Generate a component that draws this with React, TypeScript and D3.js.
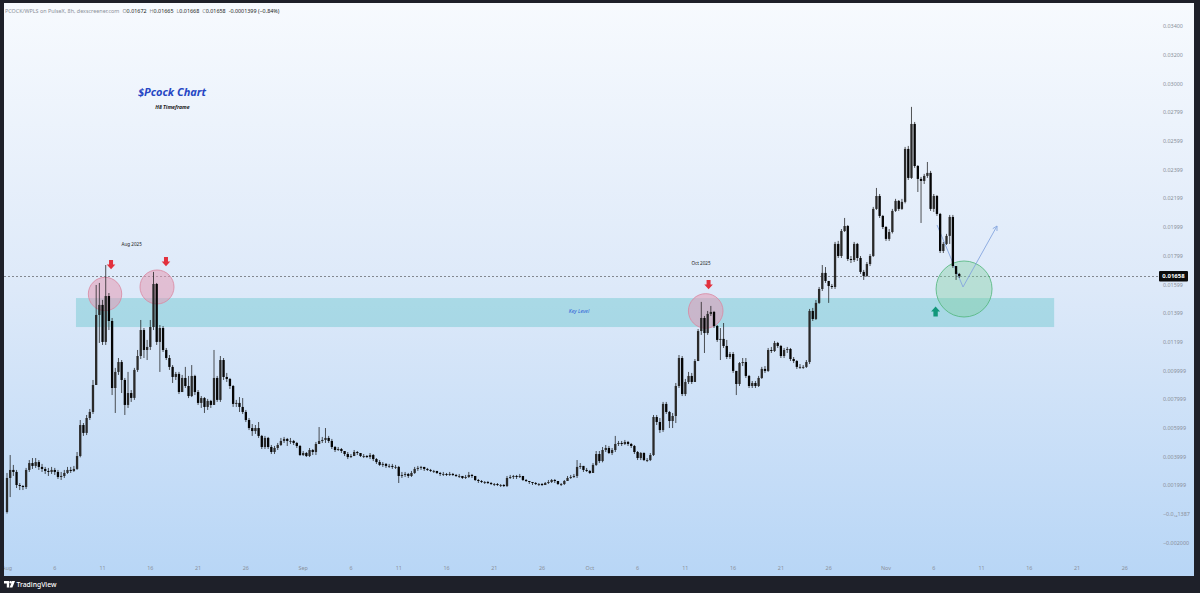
import React from "react";
import * as d3 from "d3";

const W = 1200;
const H = 593;

// prices in units of 0.0001
const UNIT = 1e-4;
const OPEN0 = 1.4;
const CLOSE = [
  25.1, 30.7, 29.3, 20.2, 19.5, 18.8, 30.7, 35.5, 33.5, 36.2,
  32.8, 31.4, 30.0, 29.3, 30.7, 29.3, 25.8, 26.5, 28.6, 30.7,
  30.0, 31.4, 40.4, 62.0, 56.5, 66.9, 71.1, 89.9, 138.7, 145.7,
  119.9, 151.9, 134.5, 87.8, 99.0, 105.9, 93.4, 76.0, 84.3, 80.9,
  100.4, 110.1, 128.2, 114.3, 116.4, 130.3, 160.3, 119.9, 129.6, 114.3,
  108.7, 102.5, 95.5, 97.6, 85.0, 94.8, 89.2, 82.2, 96.2, 85.0,
  77.4, 80.8, 74.6, 78.8, 76.0, 94.8, 79.5, 107.3, 95.5, 94.1,
  89.2, 76.7, 77.4, 74.6, 71.1, 65.5, 59.9, 57.8, 59.9, 54.4,
  46.7, 53.0, 46.7, 43.2, 46.0, 48.1, 50.9, 52.3, 50.9, 50.9,
  49.5, 47.4, 41.1, 42.5, 40.4, 44.6, 43.2, 48.8, 50.9, 51.6,
  53.0, 50.9, 46.7, 44.6, 45.3, 43.9, 41.8, 39.7, 40.4, 43.2,
  42.5, 40.4, 40.4, 39.7, 41.1, 38.3, 36.2, 34.2, 34.9, 33.5,
  33.5, 32.8, 32.8, 26.5, 27.2, 27.9, 26.5, 28.6, 31.4, 32.1,
  32.8, 31.4, 30.7, 30.0, 30.0, 28.6, 27.9, 27.9, 27.2, 27.9,
  27.2, 26.5, 26.5, 25.1, 25.8, 27.2, 26.5, 23.7, 23.0, 22.3,
  22.3, 21.6, 20.9, 20.9, 20.2, 20.2, 19.5, 25.1, 25.8, 26.5,
  25.8, 26.5, 23.7, 23.0, 22.3, 21.6, 20.9, 20.9, 20.2, 21.6,
  22.3, 23.7, 23.0, 20.9, 20.9, 23.0, 25.1, 25.8, 26.5, 32.8,
  33.5, 30.7, 30.0, 28.6, 34.2, 41.8, 36.9, 44.6, 46.0, 42.5,
  44.6, 48.8, 49.5, 48.8, 50.2, 48.8, 47.4, 43.2, 39.0, 42.5,
  37.6, 37.6, 41.1, 67.6, 64.1, 58.5, 76.7, 71.1, 64.8, 68.3,
  89.2, 108.7, 83.6, 92.0, 96.2, 92.0, 106.6, 127.5, 136.6, 126.1,
  139.4, 140.8, 131.0, 121.3, 122.0, 117.1, 109.4, 111.5, 99.7, 90.6,
  105.2, 105.9, 96.2, 89.2, 91.3, 89.2, 94.8, 101.1, 99.7, 114.3,
  113.6, 119.2, 117.1, 110.1, 114.3, 115.0, 108.0, 106.6, 102.5, 102.5,
  102.5, 105.9, 141.5, 135.9, 147.1, 156.8, 168.0, 162.4, 158.9, 158.2,
  188.2, 179.8, 197.2, 200.7, 177.7, 177.0, 188.2, 178.4, 168.7, 165.9,
  174.2, 179.8, 212.6, 221.6, 207.7, 200.0, 191.7, 196.5, 211.2, 218.2,
  212.6, 217.5, 254.4, 234.2, 271.8, 242.5, 233.5, 232.1, 235.6, 237.7,
  212.6, 221.6, 209.1, 183.3, 188.2, 193.8, 207.0, 172.8, 167.3, 165.8,
];
const HIGH = [
  28.6, 41.1, 34.2, 30.7, 21.6, 20.2, 32.1, 37.6, 39.0, 39.0,
  37.6, 34.9, 32.8, 32.1, 32.8, 32.1, 30.7, 29.3, 30.7, 32.8,
  32.8, 33.5, 43.2, 65.5, 63.4, 69.0, 73.2, 93.4, 159.6, 161.0,
  149.2, 173.5, 154.0, 136.6, 101.8, 108.7, 107.3, 94.8, 99.0, 86.4,
  101.8, 114.3, 135.2, 129.6, 121.3, 135.2, 168.7, 161.0, 131.7, 131.0,
  115.7, 110.8, 103.8, 99.0, 99.0, 96.9, 102.5, 96.2, 103.8, 97.0,
  86.4, 82.2, 81.5, 80.2, 79.5, 114.3, 96.2, 110.1, 108.7, 98.3,
  94.8, 89.9, 79.5, 81.5, 80.8, 72.5, 66.9, 62.7, 62.0, 64.1,
  55.1, 54.4, 53.7, 48.1, 47.4, 49.5, 53.0, 53.7, 53.0, 53.0,
  51.6, 50.2, 48.1, 43.9, 43.2, 46.0, 45.3, 50.2, 60.6, 53.7,
  59.9, 54.4, 52.3, 47.4, 46.7, 46.0, 43.9, 43.2, 41.8, 44.6,
  43.9, 42.5, 41.8, 41.1, 42.5, 41.8, 39.0, 37.6, 36.2, 35.5,
  34.9, 34.9, 34.2, 33.5, 29.3, 29.3, 28.6, 30.0, 32.8, 33.5,
  33.5, 32.8, 32.1, 31.4, 30.7, 30.0, 29.3, 29.3, 28.6, 29.3,
  28.6, 27.9, 27.9, 26.5, 27.2, 29.3, 27.9, 26.5, 24.4, 23.7,
  23.0, 23.0, 22.3, 21.6, 21.6, 20.9, 20.9, 26.5, 27.2, 27.2,
  27.2, 27.9, 26.5, 24.4, 23.0, 22.3, 22.3, 21.6, 21.6, 22.3,
  23.7, 24.4, 24.4, 23.0, 21.6, 23.7, 26.5, 27.2, 27.9, 37.6,
  35.5, 33.5, 32.1, 30.7, 35.5, 43.9, 43.9, 46.7, 48.1, 47.4,
  46.0, 54.4, 50.9, 50.9, 51.6, 50.9, 49.5, 48.1, 43.9, 43.2,
  43.0, 39.0, 42.5, 69.0, 69.0, 66.9, 78.1, 78.1, 71.8, 70.4,
  91.3, 110.8, 110.1, 94.1, 99.0, 98.3, 108.0, 128.9, 147.8, 138.0,
  141.5, 145.0, 141.5, 131.7, 129.6, 133.1, 121.3, 112.9, 112.9, 99.7,
  105.9, 108.7, 108.7, 96.9, 92.7, 92.7, 96.2, 102.5, 103.1, 115.7,
  116.4, 120.6, 119.9, 117.8, 115.7, 116.4, 115.7, 109.4, 107.3, 104.5,
  103.8, 107.3, 142.9, 143.6, 149.1, 158.2, 173.5, 172.1, 162.4, 160.3,
  189.6, 190.3, 198.6, 206.3, 201.4, 179.8, 189.6, 188.9, 179.8, 170.1,
  175.6, 181.2, 214.0, 227.2, 223.0, 208.4, 200.7, 198.6, 212.6, 219.6,
  218.8, 219.6, 255.8, 256.5, 283.7, 273.2, 243.2, 234.9, 237.0, 245.3,
  239.1, 223.0, 222.3, 209.8, 189.6, 195.2, 208.4, 208.4, 172.8, 168.0,
];
const LOW = [
  0.3, 11.8, 26.5, 18.1, 16.7, 16.7, 17.4, 29.3, 31.4, 32.1,
  30.7, 29.3, 27.9, 26.5, 27.9, 27.2, 24.4, 23.7, 25.1, 27.9,
  28.6, 29.3, 30.7, 39.5, 54.4, 55.0, 65.5, 69.7, 89.9, 119.2,
  117.8, 117.8, 128.2, 82.9, 70.4, 96.9, 84.3, 69.0, 73.9, 78.1,
  79.5, 99.0, 108.0, 108.7, 107.3, 114.3, 128.2, 117.8, 99.0, 112.9,
  107.3, 100.4, 91.3, 93.4, 83.6, 85.0, 87.8, 80.8, 81.5, 82.9,
  76.0, 73.9, 70.4, 72.5, 73.9, 76.0, 78.1, 78.1, 93.4, 92.0,
  87.1, 74.6, 74.6, 71.1, 69.7, 64.1, 58.5, 54.4, 55.8, 53.0,
  45.3, 45.3, 45.3, 41.8, 41.8, 44.6, 47.4, 49.5, 47.4, 48.8,
  48.1, 46.0, 40.4, 40.4, 39.7, 39.7, 41.1, 41.1, 48.8, 49.5,
  49.5, 49.5, 45.3, 43.2, 43.9, 42.5, 40.4, 38.3, 39.0, 40.4,
  41.1, 39.7, 39.0, 39.0, 38.3, 36.9, 34.9, 33.5, 32.8, 32.1,
  32.1, 31.4, 31.4, 21.6, 25.1, 25.8, 25.1, 25.8, 27.9, 30.0,
  30.7, 30.0, 30.0, 29.3, 28.6, 27.9, 26.5, 26.5, 26.5, 26.5,
  26.5, 25.8, 25.1, 24.4, 24.4, 25.1, 25.1, 23.0, 21.6, 21.6,
  20.9, 20.9, 20.2, 19.5, 19.5, 18.8, 18.8, 18.8, 24.4, 24.4,
  24.4, 25.1, 23.0, 22.3, 20.9, 20.2, 20.2, 19.5, 19.5, 20.2,
  20.9, 21.6, 21.6, 20.2, 19.5, 20.2, 23.0, 24.4, 25.1, 25.1,
  31.4, 29.3, 29.3, 27.9, 28.6, 33.5, 35.5, 36.0, 43.2, 41.8,
  41.1, 43.2, 47.4, 47.4, 48.1, 47.4, 46.0, 41.8, 37.6, 37.6,
  36.9, 36.2, 36.9, 40.4, 62.0, 56.5, 57.2, 69.7, 59.9, 59.9,
  63.4, 87.8, 82.2, 82.2, 90.6, 90.6, 92.0, 106.6, 124.8, 112.2,
  124.8, 138.0, 129.6, 119.9, 107.3, 115.7, 108.0, 108.0, 98.3, 82.9,
  89.2, 103.1, 94.8, 87.8, 87.8, 87.8, 88.5, 94.1, 98.3, 99.0,
  112.2, 112.9, 115.7, 108.7, 108.7, 112.2, 106.6, 105.2, 101.1, 101.1,
  101.1, 101.8, 104.5, 134.5, 135.2, 146.4, 155.4, 161.0, 147.1, 156.8,
  156.8, 178.4, 178.4, 196.5, 176.3, 174.9, 175.6, 176.3, 167.3, 163.1,
  165.2, 172.8, 179.1, 211.9, 206.3, 198.6, 190.3, 190.3, 195.5, 210.5,
  211.2, 211.9, 216.5, 232.8, 233.5, 241.2, 224.4, 202.8, 230.0, 234.2,
  211.2, 210.5, 207.7, 181.9, 181.9, 187.5, 188.2, 171.5, 163.1, 164.5,
];

const PRICE_TICKS = [0.034, 0.032, 0.03, 0.02799, 0.02599, 0.02399, 0.02199, 0.01999, 0.01799, 0.01599, 0.01399, 0.01199, 0.009999, 0.007999, 0.005999, 0.003999, 0.001999, 0, -0.002];
const PRICE_LABELS = ["0.03400", "0.03200", "0.03000", "0.02799", "0.02599", "0.02399", "0.02199", "0.01999", "0.01799", "0.01599", "0.01399", "0.01199", "0.009999", "0.007999", "0.005999", "0.003999", "0.001999", "−0.0₁₄1387", "−0.002000"];

const DATE_TICKS = ["2025-08-01", "2025-08-06", "2025-08-11", "2025-08-16", "2025-08-21", "2025-08-26", "2025-09-01", "2025-09-06", "2025-09-11", "2025-09-16", "2025-09-21", "2025-09-26", "2025-10-01", "2025-10-06", "2025-10-11", "2025-10-16", "2025-10-21", "2025-10-26", "2025-11-01", "2025-11-06", "2025-11-11", "2025-11-16", "2025-11-21", "2025-11-26"];
const DATE_LABELS = ["Aug", "6", "11", "16", "21", "26", "Sep", "6", "11", "16", "21", "26", "Oct", "6", "11", "16", "21", "26", "Nov", "6", "11", "16", "21", "26"];

const LAST_PRICE = 0.01658;
const KEY_LEVEL = [0.01303, 0.01505];
const KEY_LEVEL_DAYS = [7.22, 109.6];
// annotations: [day offset from Aug 1, price]
const PINK_CIRCLES = [[10.26, 0.01533, 16.7], [15.7, 0.01582, 17], [73.13, 0.01415, 17.3]];
const GREEN_CIRCLE = [100.17, 0.01568, 28];
const RED_ARROWS = [[10.89, 0.0177], [16.64, 0.01791], [73.43, 0.01631]];
const GREEN_ARROW = [97.19, 0.01446];
const PATH_POINTS = [[97.34, 0.02014], [100.06, 0.01582], [103.62, 0.02007]];

export default function App() {
  const t0 = Date.UTC(2025, 7, 1);
  const DAY = 864e5;
  const x = d3.scaleUtc().domain([new Date(t0), new Date(Date.UTC(2025, 10, 1))]).range([7, 886]);
  const y = d3.scaleLinear().domain([0, 0.034]).range([514, 26.1]);
  const xd = (d: number) => x(new Date(t0 + d * DAY));

  const candles = CLOSE.map((c, i) => {
    const o = i === 0 ? OPEN0 : CLOSE[i - 1];
    return { t: new Date(t0 + i * 8 * 3600e3), o: o * UNIT, c: c * UNIT, h: HIGH[i] * UNIT, l: LOW[i] * UNIT };
  });

  const bw = 2.3;
  const grey = "#8a8f98";
  const font = "'Noto Sans', 'Liberation Sans', Arial, sans-serif";

  const redArrow = (cx: number, top: number, key: string) => (
    <path key={key} d={`M${cx - 2},${top} h4 v4.5 h2.3 L${cx},${top + 9.3} L${cx - 4.3},${top + 4.5} h2.3 Z`} fill="#e2313d" />
  );

  const pathLine = d3.line<number[]>().x((p) => xd(p[0])).y((p) => y(p[1]))(PATH_POINTS) || "";
  const end = PATH_POINTS[2];
  const prev = PATH_POINTS[1];
  const ex = xd(end[0]), ey = y(end[1]);
  const ang = Math.atan2(ey - y(prev[1]), ex - xd(prev[0]));
  const ah = 5;
  const head = `M${ex - ah * Math.cos(ang - 0.5)},${ey - ah * Math.sin(ang - 0.5)} L${ex},${ey} L${ex - ah * Math.cos(ang + 0.5)},${ey - ah * Math.sin(ang + 0.5)}`;

  const ga = GREEN_ARROW;
  const gcx = xd(ga[0]);
  const gtop = y(ga[1]);

  return (
    <svg width={W} height={H} style={{ position: "fixed", left: 0, top: 0, display: "block" }} fontFamily={font}>
      <defs>
        <linearGradient id="bg" x1="0" y1="0" x2="0" y2="1">
          <stop offset="0" stopColor="#f7fafe" />
          <stop offset="0.5" stopColor="#dde9f9" />
          <stop offset="1" stopColor="#b8d6f6" />
        </linearGradient>
        <clipPath id="panel">
          <rect x={4} y={3} width={1190} height={573} />
        </clipPath>
      </defs>
      <rect x={0} y={0} width={W} height={H} fill="#1e2029" />
      <rect x={4} y={3} width={1190} height={573} fill="url(#bg)" />

      <g clipPath="url(#panel)">
        {/* key level */}
        <rect
          x={xd(KEY_LEVEL_DAYS[0])}
          y={y(KEY_LEVEL[1])}
          width={xd(KEY_LEVEL_DAYS[1]) - xd(KEY_LEVEL_DAYS[0])}
          height={y(KEY_LEVEL[0]) - y(KEY_LEVEL[1])}
          fill="#4fc0c4"
          fillOpacity={0.36}
        />
        <text x={xd(59.87)} y={y(0.01401)} fontSize={5.2} fontStyle="italic" fill="#2a5bd7" textAnchor="middle">Key Level</text>

        {/* last price dashed line */}
        <line x1={4} x2={1158} y1={Math.round(y(LAST_PRICE)) + 0.5} y2={Math.round(y(LAST_PRICE)) + 0.5} stroke="#6c6f75" strokeWidth={0.8} strokeDasharray="2,2" />

        {/* circles behind candles */}
        {PINK_CIRCLES.map((c, i) => (
          <circle key={"pc" + i} cx={xd(c[0])} cy={y(c[1])} r={c[2]} fill="#e39ab5" fillOpacity={0.55} stroke="#d9869f" strokeWidth={0.8} />
        ))}
        <circle cx={xd(GREEN_CIRCLE[0])} cy={y(GREEN_CIRCLE[1])} r={GREEN_CIRCLE[2]} fill="#7fd0a0" fillOpacity={0.4} stroke="#4fb57a" strokeWidth={0.8} />

        {/* blue projection path */}
        <path d={pathLine} fill="none" stroke="#86a6df" strokeWidth={0.9} />
        <path d={head} fill="none" stroke="#86a6df" strokeWidth={0.9} />

        {/* candles */}
        {candles.map((d, i) => {
          const cx = x(d.t);
          const top = y(Math.max(d.o, d.c));
          const bot = y(Math.min(d.o, d.c));
          const hgt = Math.max(0.9, bot - top);
          const up = d.c >= d.o;
          return (
            <g key={i}>
              <line x1={cx} x2={cx} y1={y(Math.max(d.h, d.o, d.c))} y2={y(Math.min(d.l, d.o, d.c))} stroke="#1b1b1b" strokeWidth={0.75} />
              <rect x={cx - bw / 2} y={top} width={bw} height={hgt} fill={up ? "#2a2a2a" : "#050505"} />
            </g>
          );
        })}

        {/* arrows */}
        {RED_ARROWS.map((a, i) => redArrow(xd(a[0]), y(a[1]), "ra" + i))}
        <path d={`M${gcx},${gtop} L${gcx + 4.5},${gtop + 5} h-2.3 v5 h-4.4 v-5 h-2.3 Z`} fill="#12977a" />

        {/* annotation texts */}
        <text x={xd(13.05)} y={y(0.01868)} fontSize={4.6} fill="#222" textAnchor="middle">Aug 2025</text>
        <text x={xd(72.64)} y={y(0.01735)} fontSize={4.6} fill="#222" textAnchor="middle">Oct 2025</text>
        <text x={xd(17.27)} y={y(0.02913)} fontSize={11} fontWeight="bold" fontStyle="italic" fill="#2747c4" textAnchor="middle">$Pcock Chart</text>
        <text x={xd(17.32)} y={y(0.02819)} fontSize={5.2} fontWeight="bold" fontStyle="italic" fill="#222" textAnchor="middle">H8 Timeframe</text>

        {/* x axis labels */}
        {DATE_TICKS.map((s, i) => (
          <text key={"xt" + i} x={x(new Date(s + "T00:00:00Z"))} y={570} fontSize={5.4} fill={grey} textAnchor="middle">{DATE_LABELS[i]}</text>
        ))}

        {/* y axis labels */}
        {PRICE_TICKS.map((v, i) => (
          <text key={"yt" + i} x={1163} y={y(v) + 2} fontSize={5.4} fill={grey}>{PRICE_LABELS[i]}</text>
        ))}

        {/* last price label */}
        <rect x={1159} y={y(LAST_PRICE) - 5} width={29} height={10.5} fill="#0b0b0b" rx={1} />
        <text x={1173.5} y={y(LAST_PRICE) + 2.2} fontSize={6} fontWeight="bold" fill="#fff" textAnchor="middle">{LAST_PRICE.toFixed(5)}</text>

        {/* header */}
        <text x={5} y={13} fontSize={5.4} fill={grey}>
          <tspan>PCOCK/WPLS on PulseX, 8h, dexscreener.com</tspan>
          <tspan dx={3}>O</tspan><tspan fill="#1a1a1a">0.01672</tspan>
          <tspan dx={3}>H</tspan><tspan fill="#1a1a1a">0.01665</tspan>
          <tspan dx={3}>L</tspan><tspan fill="#1a1a1a">0.01668</tspan>
          <tspan dx={3}>C</tspan><tspan fill="#1a1a1a">0.01658</tspan>
          <tspan dx={3} fill="#1a1a1a">-0.0001399 (−0.84%)</tspan>
        </text>
      </g>

      {/* TradingView logo */}
      <g fill="#ffffff">
        <path d="M4,581 h5.2 v6.5 h-2.4 v-4 h-2.8 Z" />
        <circle cx={10.7} cy={582.2} r={1.2} />
        <path d="M12.2,581 h2.8 l-2.6,6.5 h-2.8 Z" />
        <text x={16.5} y={587} fontSize={6.8} fontWeight={500}>TradingView</text>
      </g>
    </svg>
  );
}
